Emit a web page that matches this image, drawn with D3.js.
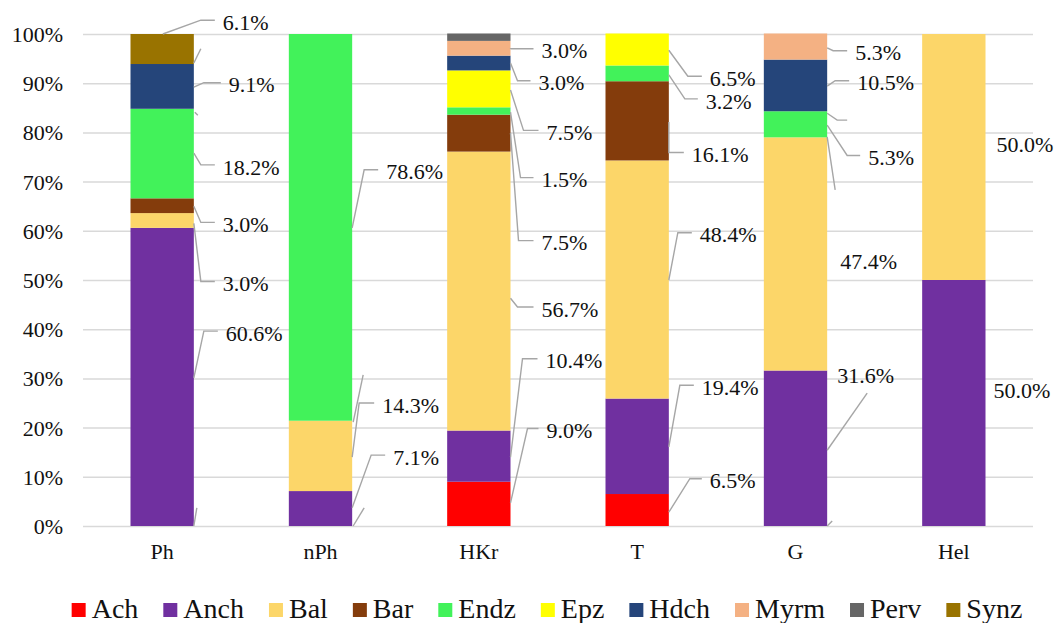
<!DOCTYPE html>
<html>
<head>
<meta charset="utf-8">
<script src="https://cdn.jsdelivr.net/npm/d3@7"></script>
<style>
  html, body { margin: 0; padding: 0; background: #fff; }
  svg { display: block; font-family: "Liberation Serif", "Times New Roman", serif; }
  svg text { font-family: "Liberation Serif", "Times New Roman", serif; }
</style>
</head>
<body>
<svg id="chart" width="1057" height="623"></svg>
<script>
// Groups shown along the x axis
const categories = ["Ph", "nPh", "HKr", "T", "G", "Hel"];

// Series, in stacking order (bottom to top)
const seriesNames = ["Ach", "Anch", "Bal", "Bar", "Endz", "Epz", "Hdch", "Myrm", "Perv", "Synz"];
const seriesColors = ["#FF0000", "#7030A0", "#FCD669", "#843C0C", "#42F25A", "#FFFF00", "#25457A", "#F4B183", "#666666", "#997300"];

// Share of each series per group, in percent
const achValues  = [0,    0,    9.0,  6.5,  0,    0];
const anchValues = [60.6, 7.1,  10.4, 19.4, 31.6, 50.0];
const balValues  = [3.0,  14.3, 56.7, 48.4, 47.4, 50.0];
const barValues  = [3.0,  0,    7.5,  16.1, 0,    0];
const endzValues = [18.2, 78.6, 1.5,  3.2,  5.3,  0];
const epzValues  = [0,    0,    7.5,  6.5,  0,    0];
const hdchValues = [9.1,  0,    3.0,  0,    10.5, 0];
const myrmValues = [0,    0,    3.0,  0,    5.3,  0];
const pervValues = [0,    0,    1.5,  0,    0,    0];
const synzValues = [6.1,  0,    0,    0,    0,    0];

const yTickValues = [0, 10, 20, 30, 40, 50, 60, 70, 80, 90, 100];

const seriesValues = [achValues, anchValues, balValues, barValues, endzValues,
                      epzValues, hdchValues, myrmValues, pervValues, synzValues];

// Placement of the value labels: text centre (in % units), text offset from the
// bar's right edge, leader anchor on the bar (in %) and the leader's elbow offset.
const labelLayout = [
  {cat: "Ph",  s: "Synz", ty: 102.4, tx: 29, ay: 100,  ex: 7, ax: -31},
  {cat: "Ph",  s: "Hdch", ty: 89.7,  tx: 35, ay: 89.2, ex: 10},
  {cat: "Ph",  s: "Endz", ty: 73.0,  tx: 29, ay: 75.8, ex: 7},
  {cat: "Ph",  s: "Bar",  ty: 61.3,  tx: 29, ay: 65.0, ex: 7},
  {cat: "Ph",  s: "Bal",  ty: 49.3,  tx: 29, ay: 61.5, ex: 7},
  {cat: "Ph",  s: "Anch", ty: 39.2,  tx: 32, ay: 30.1, ex: 10},
  {cat: "nPh", s: "Endz", ty: 72.0,  tx: 34, ay: 60.6, ex: 12},
  {cat: "nPh", s: "Bal",  ty: 24.6,  tx: 30, ay: 14.0, ex: 7},
  {cat: "nPh", s: "Anch", ty: 14.0,  tx: 41, ay: 3.7,  ex: 19},
  {cat: "HKr", s: "Myrm", ty: 96.6,  tx: 31, ay: 97.0, ex: 0},
  {cat: "HKr", s: "Hdch", ty: 90.1,  tx: 28, ay: 94.1, ex: 7},
  {cat: "HKr", s: "Epz",  ty: 80.0,  tx: 36, ay: 88.6, ex: 13},
  {cat: "HKr", s: "Endz", ty: 70.4,  tx: 31, ay: 84.1, ex: 10},
  {cat: "HKr", s: "Bar",  ty: 57.6,  tx: 31, ay: 79.9, ex: 8},
  {cat: "HKr", s: "Bal",  ty: 44.1,  tx: 31, ay: 46.3, ex: 7},
  {cat: "HKr", s: "Anch", ty: 33.6,  tx: 35, ay: 14.0, ex: 12},
  {cat: "HKr", s: "Ach",  ty: 19.4,  tx: 36, ay: 4.7,  ex: 17},
  {cat: "T",   s: "Epz",  ty: 91.0,  tx: 41, ay: 96.7, ex: 19},
  {cat: "T",   s: "Endz", ty: 86.4,  tx: 37, ay: 91.7, ex: 16},
  {cat: "T",   s: "Bar",  ty: 75.5,  tx: 23, ay: 82.1, ex: 0},
  {cat: "T",   s: "Bal",  ty: 59.2,  tx: 31, ay: 50.0, ex: 9},
  {cat: "T",   s: "Anch", ty: 28.2,  tx: 33, ay: 16.1, ex: 11},
  {cat: "T",   s: "Ach",  ty: 9.2,   tx: 41, ay: 2.8,  ex: 21},
  {cat: "G",   s: "Myrm", ty: 96.2,  tx: 28, ay: 97.2, ex: 6},
  {cat: "G",   s: "Hdch", ty: 90.1,  tx: 30, ay: 89.4, ex: 8},
  {cat: "G",   s: "Endz", ty: 74.9,  tx: 41, ay: 81.5, ex: 20},
  {cat: "G",   s: "Bal",  ty: 53.9,  tx: 13, ay: 79.1, ex: 8,  ey: 68.3, open: true},
  {cat: "G",   s: "Anch", ty: 30.6,  tx: 10, ay: 15.4, ex: 40, ey: 27.0, open: true},
  {cat: "Hel", s: "Bal",  ty: 77.5,  tx: 11},
  {cat: "Hel", s: "Anch", ty: 27.5,  tx: 8}
];

// Loose leader fragments left beside some bars: [x offset from bar edge, % level]
const leaderStubs = [
  {cat: "Ph",  pts: [[0, 94.1], [7, 97.0]]},
  {cat: "Ph",  pts: [[1, 84.1], [4, 83.5]]},
  {cat: "Ph",  pts: [[0, 0], [3, 3.7]]},
  {cat: "nPh", pts: [[1, 21.1], [11, 30.7]]},
  {cat: "nPh", pts: [[1, 0], [12, 3.7]]},
  {cat: "G",   pts: [[0, 83.9], [10, 82.5], [20, 82.5]]},
  {cat: "G",   pts: [[0, 0], [5, 1.0]]}
];

const width = 1057, height = 623;
const plot = {left: 83, right: 1033, top: 34, bottom: 526};
const serif = "Liberation Serif, Times New Roman, serif";

const svg = d3.select("#chart");
svg.append("rect").attr("width", width).attr("height", height).attr("fill", "#fff");

const x = d3.scaleBand().domain(categories).range([plot.left, plot.right]).paddingInner(0.6).paddingOuter(0.3);
const y = d3.scaleLinear().domain([0, 100]).range([plot.bottom, plot.top]);
const color = d3.scaleOrdinal().domain(seriesNames).range(seriesColors);

// Table for the stack layout
const table = categories.map((c, i) => {
  const row = {category: c};
  seriesNames.forEach((s, k) => { row[s] = seriesValues[k][i]; });
  return row;
});
const stacked = d3.stack().keys(seriesNames)(table);

// Gridlines and y tick labels
const yAxis = d3.axisLeft(y).tickValues(yTickValues).tickSize(-(plot.right - plot.left))
  .tickFormat(d => d + "%").tickPadding(20);
const gy = svg.append("g").attr("transform", `translate(${plot.left},0)`).call(yAxis);
gy.attr("font-family", serif);
gy.select(".domain").remove();
gy.selectAll(".tick line").attr("stroke", "#D9D9D9").attr("stroke-width", 1.5);
gy.selectAll(".tick text").attr("font-size", 22).attr("fill", "#111").attr("dy", "0.34em");

// Stacked bars
svg.append("g").selectAll("g").data(stacked).join("g")
  .attr("fill", d => color(d.key))
  .selectAll("rect").data(d => d.filter(p => p[1] - p[0] > 0)).join("rect")
  .attr("x", d => x(d.data.category))
  .attr("width", x.bandwidth())
  .attr("y", d => y(d[1]))
  .attr("height", d => y(d[0]) - y(d[1]));

// Category labels
const xAxis = d3.axisBottom(x).tickSize(0).tickPadding(17);
const gx = svg.append("g").attr("transform", `translate(0,${plot.bottom})`).call(xAxis);
gx.attr("font-family", serif);
gx.select(".domain").remove();
gx.selectAll(".tick text").attr("font-size", 22).attr("fill", "#111");

// Value labels with leader lines
const valueOf = (cat, s) => seriesValues[seriesNames.indexOf(s)][categories.indexOf(cat)];
const rightEdge = cat => x(cat) + x.bandwidth();
const fmt = d3.format(".1f");
const leaderColor = "#A6A6A6";

const gl = svg.append("g");
labelLayout.forEach(l => {
  const rx = rightEdge(l.cat);
  const textX = rx + l.tx;
  const textY = y(l.ty);
  if (l.ay !== undefined) {
    const lineY = l.ey !== undefined ? y(l.ey) : textY - 2;
    const pts = [[rx + (l.ax || 0), y(l.ay)], [rx + l.ex, lineY]];
    if (!l.open) pts.push([textX - 8, lineY]);
    gl.append("path").attr("d", d3.line()(pts))
      .attr("fill", "none").attr("stroke", leaderColor).attr("stroke-width", 1.4);
  }
  gl.append("text").attr("x", textX).attr("y", textY).attr("dy", "0.35em")
    .attr("font-size", 22).attr("fill", "#111")
    .text(fmt(valueOf(l.cat, l.s)) + "%");
});
leaderStubs.forEach(st => {
  const rx = rightEdge(st.cat);
  gl.append("path").attr("d", d3.line()(st.pts.map(p => [rx + p[0], y(p[1])])))
    .attr("fill", "none").attr("stroke", leaderColor).attr("stroke-width", 1.4);
});

// Legend
const legend = svg.append("g");
const legendY = 618, sw = 14, gapText = 6, gapItem = 25;
const items = legend.selectAll("g").data(seriesNames).join("g");
items.append("rect").attr("width", sw).attr("height", sw).attr("y", legendY - sw - 1)
  .attr("fill", d => color(d));
items.append("text").attr("x", sw + gapText).attr("y", legendY)
  .attr("font-size", 28).attr("fill", "#111").text(d => d);
let cursor = 0;
const offsets = [];
items.each(function () {
  offsets.push(cursor);
  const w = d3.select(this).select("text").node().getComputedTextLength();
  cursor += sw + gapText + w + gapItem;
});
const total = cursor - gapItem;
const startX = 547 - total / 2;
items.attr("transform", (d, i) => `translate(${startX + offsets[i]},0)`);
</script>
</body>
</html>
